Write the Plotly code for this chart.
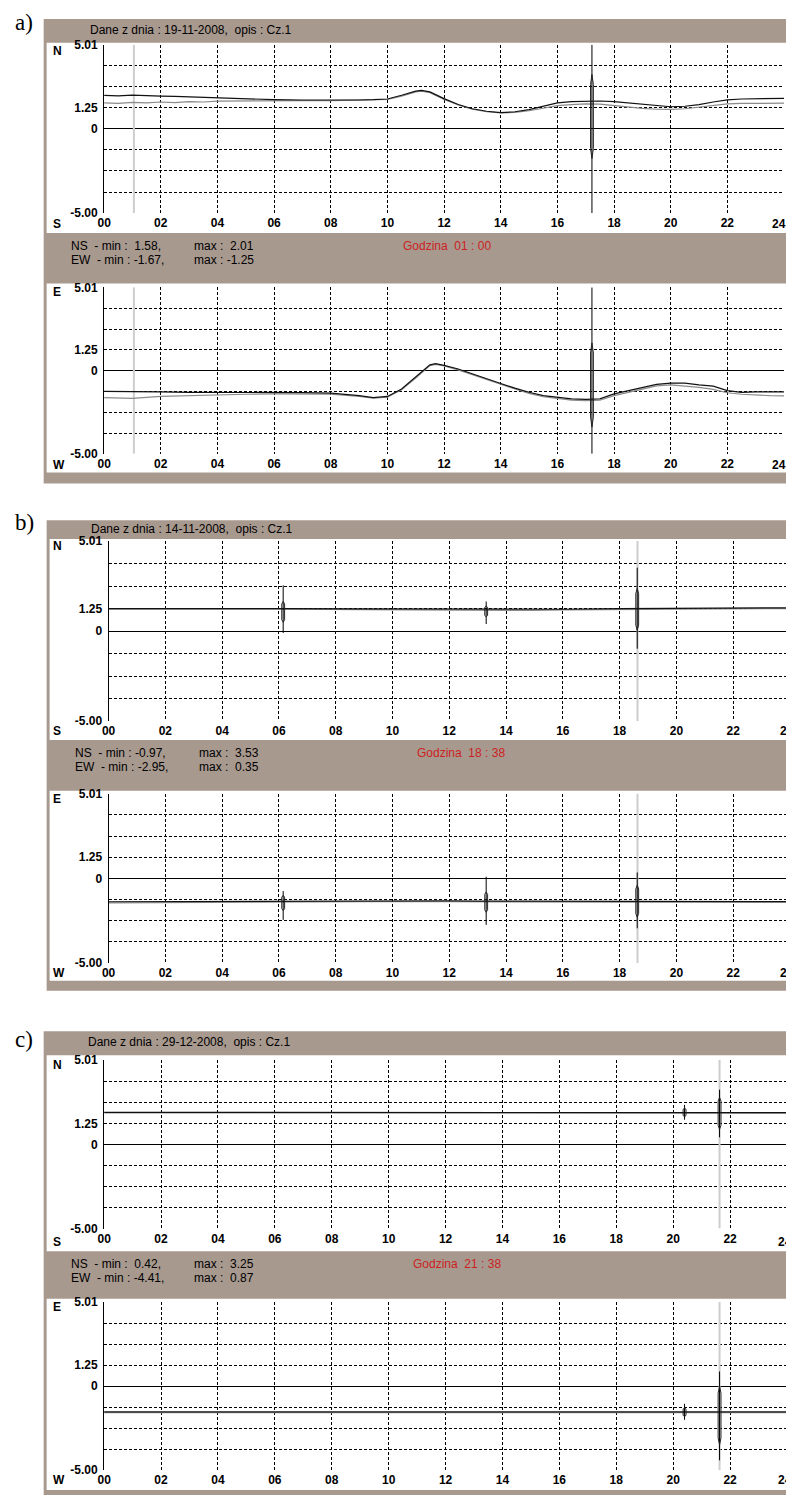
import plotly.graph_objects as go

W, H = 786, 1503

# ---------------------------------------------------------------- data
TICK_HOURS = [0, 2, 4, 6, 8, 10, 12, 14, 16, 18, 20, 22]
TICK_TEXT = ["00", "02", "04", "06", "08", "10", "12", "14", "16", "18", "20", "22"]
LAST_TICK_TEXT = "24"
Y_TICK_VALS = [-5.0, -3.75, -2.5, -1.25, 0, 1.25, 2.5, 3.75, 5.01]
Y_TICK_TEXT = ["-5.00", "", "", "", "0", "1.25", "", "", "5.01"]

PANEL_LABELS = ["a)", "b)", "c)"]
DATES = ["19-11-2008", "14-11-2008", "29-12-2008"]
DESCRIPTION = "Cz.1"
CURSOR_TEXT = ["01 : 00", "18 : 38", "21 : 38"]
CURSOR_HOURS = [1.05, 18.63, 21.63]
NS_MIN = [1.58, -0.97, 0.42]
NS_MAX = [2.01, 3.53, 3.25]
EW_MIN = [-1.67, -2.95, -4.41]
EW_MAX = [-1.25, 0.35, 0.87]

# panel a) -- NS component
A_N_HOURS = [0, 0.5, 1, 1.5, 2, 2.5, 3, 3.5, 4, 5, 6, 7, 8, 9, 9.5, 10, 10.5, 11, 11.2, 11.5,
             12, 12.5, 13, 13.5, 14, 14.5, 15, 15.5, 16, 16.5, 17, 17.5, 18, 18.5, 19, 19.5,
             20, 20.5, 21, 21.5, 22, 22.5, 23, 23.5, 24]
A_N_MAX = [2.00, 1.97, 2.01, 1.96, 1.95, 1.93, 1.90, 1.91, 1.85, 1.78, 1.74, 1.72, 1.70, 1.72,
           1.74, 1.78, 2.00, 2.25, 2.29, 2.20, 1.80, 1.45, 1.20, 1.05, 0.97, 1.02, 1.15, 1.35,
           1.55, 1.62, 1.65, 1.66, 1.62, 1.55, 1.45, 1.38, 1.32, 1.35, 1.45, 1.60, 1.73, 1.78,
           1.80, 1.82, 1.82]
A_N_MIN = [1.55, 1.52, 1.58, 1.55, 1.60, 1.57, 1.62, 1.60, 1.65, 1.67, 1.68, 1.68, 1.68, 1.70,
           1.72, 1.75, 1.95, 2.20, 2.25, 2.15, 1.76, 1.42, 1.17, 1.02, 0.95, 0.98, 1.08, 1.25,
           1.39, 1.45, 1.49, 1.48, 1.39, 1.30, 1.22, 1.17, 1.16, 1.20, 1.30, 1.40, 1.49, 1.52,
           1.52, 1.53, 1.53]
# panel a) -- EW component
A_E_HOURS = [0, 1, 2, 3, 4, 5, 6, 7, 8, 9, 9.5, 10, 10.5, 11, 11.5, 11.7, 12, 12.5, 13, 13.5,
             14, 14.5, 15, 15.5, 16, 16.5, 17, 17.5, 18, 18.5, 19, 19.5, 20, 20.5, 21, 21.5,
             22, 22.5, 23, 23.5, 24]
A_E_MAX = [-1.25, -1.25, -1.28, -1.30, -1.30, -1.30, -1.30, -1.32, -1.35, -1.50, -1.62, -1.55,
           -1.10, -0.40, 0.35, 0.42, 0.32, 0.10, -0.20, -0.50, -0.77, -1.05, -1.30, -1.50,
           -1.60, -1.70, -1.73, -1.70, -1.40, -1.20, -0.98, -0.82, -0.75, -0.75, -0.85, -0.93,
           -1.20, -1.30, -1.27, -1.27, -1.27]
A_E_MIN = [-1.62, -1.67, -1.55, -1.50, -1.45, -1.42, -1.40, -1.40, -1.42, -1.55, -1.66, -1.60,
           -1.15, -0.45, 0.30, 0.38, 0.28, 0.05, -0.25, -0.55, -0.82, -1.10, -1.37, -1.57,
           -1.68, -1.77, -1.80, -1.78, -1.50, -1.30, -1.08, -0.92, -0.85, -0.93, -1.00, -1.13,
           -1.33, -1.42, -1.47, -1.50, -1.52]

# panel b) -- quiet day
B_HOURS = [0, 3, 6, 9, 12, 13, 15, 16, 18, 20, 22, 24]
B_N_MAX = [1.26, 1.27, 1.26, 1.24, 1.22, 1.20, 1.20, 1.22, 1.25, 1.27, 1.30, 1.30]
B_N_MIN = [1.22, 1.23, 1.22, 1.20, 1.17, 1.15, 1.15, 1.18, 1.21, 1.23, 1.25, 1.26]
B_E_MAX = [-1.38, -1.36, -1.35, -1.33, -1.33, -1.34, -1.35, -1.35, -1.36, -1.37, -1.37, -1.37]
B_E_MIN = [-1.45, -1.42, -1.40, -1.38, -1.38, -1.39, -1.40, -1.40, -1.41, -1.41, -1.41, -1.41]

# panel c) -- quiet day
C_HOURS = [0, 3, 6, 9, 11, 12, 14, 16, 18, 20, 22, 24]
C_N_MAX = [1.90, 1.90, 1.90, 1.90, 1.90, 1.89, 1.87, 1.88, 1.89, 1.90, 1.89, 1.89]
C_N_MIN = [1.87, 1.87, 1.87, 1.87, 1.86, 1.85, 1.83, 1.85, 1.86, 1.87, 1.86, 1.86]
C_E_MAX = [-1.53, -1.53, -1.53, -1.53, -1.52, -1.52, -1.53, -1.52, -1.53, -1.53, -1.53, -1.53]
C_E_MIN = [-1.57, -1.57, -1.57, -1.58, -1.57, -1.56, -1.57, -1.56, -1.57, -1.57, -1.57, -1.57]

# short oscillation bursts: (hour, full low, full high, envelope low, envelope high)
A_N_SPIKES = [(17.22, -5.0, 5.01, -1.76, 3.24)]
A_E_SPIKES = [(17.22, -5.0, 5.01, -3.39, 1.67)]
B_N_SPIKES = [(6.15, -0.10, 2.55, 0.50, 1.65), (13.30, 0.40, 1.65, 0.80, 1.40),
              (18.62, -0.97, 3.53, 0.06, 2.38)]
B_E_SPIKES = [(6.15, -2.45, -0.75, -1.90, -1.00), (13.30, -2.75, 0.10, -2.00, -0.80),
              (18.62, -2.95, 0.35, -2.30, -0.40)]
C_N_SPIKES = [(20.40, 1.47, 2.35, 1.65, 2.15), (21.63, 0.42, 3.25, 0.90, 2.80)]
C_E_SPIKES = [(20.40, -2.00, -1.05, -1.80, -1.30), (21.63, -4.41, 0.87, -3.50, 0.00)]

SERIES = [
    [(A_N_HOURS, A_N_MAX, A_N_MIN, A_N_SPIKES), (A_E_HOURS, A_E_MAX, A_E_MIN, A_E_SPIKES)],
    [(B_HOURS, B_N_MAX, B_N_MIN, B_N_SPIKES), (B_HOURS, B_E_MAX, B_E_MIN, B_E_SPIKES)],
    [(C_HOURS, C_N_MAX, C_N_MIN, C_N_SPIKES), (C_HOURS, C_E_MAX, C_E_MIN, C_E_SPIKES)],
]

# ---------------------------------------------------------------- layout geometry (pixels)
GEOM = [
    dict(frame=(37, 12, 786, 481), n_white=(40, 36, 786, 228), e_white=(40, 279, 786, 470),
         x0=98, x24=784, lbl24=779, plots=[(38, 208), (283, 451)], title=(82, 23), lab_y=16,
         info=(63, 187, 241, 255), red_x=398, s_y=219, w_y=462, n_y=44, e_y=288),
    dict(frame=(40, 518, 786, 993), n_white=(43, 537, 786, 740), e_white=(43, 791, 786, 983),
         x0=102.5, x24=790, lbl24=787, plots=[(539, 721), (794, 965)], title=(83, 527),
         lab_y=520, info=(67, 192, 753, 767), red_x=412, s_y=731, w_y=975, n_y=544, e_y=799),
    dict(frame=(37, 1034, 786, 1502), n_white=(40, 1058, 786, 1256),
         e_white=(40, 1304, 786, 1497), x0=98, x24=787, lbl24=785,
         plots=[(1063, 1233), (1307, 1477)], title=(80, 1045), lab_y=1042,
         info=(63, 187, 1269, 1283), red_x=408, s_y=1247, w_y=1487, n_y=1068, e_y=1312),
]

BROWN = "#A8998F"
GRID_DASH = "3px,2px"
TICK_FONT = dict(family="Liberation Sans Narrow, Liberation Sans, Arial, sans-serif",
                 size=12, color="black", weight="bold")
TEXT_FONT = dict(family="Liberation Sans, Arial, sans-serif", size=12, color="black")
NB = "\u00a0"


def px_x(v):
    return v / W


def px_y(v):
    return 1 - v / H


fig = go.Figure()
shapes = []
annotations = []
layout_axes = {}

sub = 0
for p, g in enumerate(GEOM):
    fx0, fy0, fx1, fy1 = g["frame"]
    shapes.append(dict(type="rect", xref="paper", yref="paper", x0=px_x(fx0), x1=px_x(fx1),
                       y0=px_y(fy1), y1=px_y(fy0), fillcolor=BROWN, line=dict(width=0),
                       layer="below"))
    for key in ("n_white", "e_white"):
        wx0, wy0, wx1, wy1 = g[key]
        shapes.append(dict(type="rect", xref="paper", yref="paper", x0=px_x(wx0), x1=px_x(wx1),
                           y0=px_y(wy1), y1=px_y(wy0), fillcolor="white", line=dict(width=0),
                           layer="below"))

    # texts
    annotations.append(dict(text=PANEL_LABELS[p], xref="paper", yref="paper", x=px_x(6),
                            y=px_y(g["lab_y"]), xanchor="left", yanchor="middle", showarrow=False,
                            font=dict(family="Liberation Serif, Times New Roman, serif", size=23,
                                      color="black")))
    annotations.append(dict(text=f"Dane z dnia : {DATES[p]},{NB}{NB}opis : {DESCRIPTION}",
                            xref="paper", yref="paper", x=px_x(g["title"][0]),
                            y=px_y(g["title"][1]), xanchor="left", yanchor="middle",
                            showarrow=False, font=TEXT_FONT))
    ix0, ix1, iy0, iy1 = g["info"]
    lines = [("NS", NS_MIN[p], NS_MAX[p], iy0), ("EW", EW_MIN[p], EW_MAX[p], iy1)]
    for name, vmin, vmax, yy in lines:
        left = f"{name}{NB}{NB}-{NB}min{NB}:{NB}{vmin:5.2f},".replace(" ", NB)
        right = f"max{NB}:{NB}{vmax:5.2f}".replace(" ", NB)
        annotations.append(dict(text=left, xref="paper", yref="paper", x=px_x(ix0), y=px_y(yy),
                                xanchor="left", yanchor="middle", showarrow=False, font=TEXT_FONT))
        annotations.append(dict(text=right, xref="paper", yref="paper", x=px_x(ix1), y=px_y(yy),
                                xanchor="left", yanchor="middle", showarrow=False, font=TEXT_FONT))
    annotations.append(dict(text=f"Godzina{NB}{NB}{CURSOR_TEXT[p]}".replace(" ", NB),
                            xref="paper", yref="paper", x=px_x(g["red_x"]), y=px_y(iy0),
                            xanchor="left", yanchor="middle", showarrow=False,
                            font=dict(family="Liberation Sans, Arial, sans-serif", size=12,
                                      color="#CC2222")))
    for letter, yy in (("N", g["n_y"]), ("S", g["s_y"]), ("E", g["e_y"]), ("W", g["w_y"])):
        annotations.append(dict(text=letter, xref="paper", yref="paper", x=px_x(44), y=px_y(yy),
                                xanchor="left", yanchor="middle", showarrow=False, font=TICK_FONT))
    # last hour label sits at the right edge of the window (partly cut off, as in the original)
    for yy in (g["s_y"], g["w_y"]):
        annotations.append(dict(text=LAST_TICK_TEXT, xref="paper", yref="paper",
                                x=px_x(g["lbl24"]), y=px_y(yy), xanchor="center",
                                yanchor="middle", showarrow=False, font=TICK_FONT))

    x_end = min(g["x24"], W)
    x_range_end = 24 * (x_end - g["x0"]) / (g["x24"] - g["x0"])

    for k, (top, bot) in enumerate(g["plots"]):
        sub += 1
        xa = "x" if sub == 1 else f"x{sub}"
        ya = "y" if sub == 1 else f"y{sub}"
        layout_axes["xaxis" if sub == 1 else f"xaxis{sub}"] = dict(
            domain=[px_x(g["x0"]), px_x(x_end)], range=[0, x_range_end], anchor=ya,
            tickmode="array", tickvals=TICK_HOURS, ticktext=TICK_TEXT, showgrid=True,
            gridcolor="black", gridwidth=1, griddash=GRID_DASH, zeroline=False, showline=False,
            ticks="", tickfont=TICK_FONT, ticklabelstandoff=1, fixedrange=True)
        layout_axes["yaxis" if sub == 1 else f"yaxis{sub}"] = dict(
            domain=[px_y(bot), px_y(top)], range=[-5.0, 5.01], anchor=xa,
            tickmode="array", tickvals=Y_TICK_VALS, ticktext=Y_TICK_TEXT, showgrid=True,
            gridcolor="black", gridwidth=1, griddash=GRID_DASH, zeroline=True,
            zerolinecolor="black", zerolinewidth=1, showline=True, linecolor="black",
            linewidth=1, ticks="", tickfont=TICK_FONT, ticklabelstandoff=3, fixedrange=True)

        hours, vmax, vmin, spikes = SERIES[p][k]
        # cursor
        fig.add_trace(go.Scatter(x=[CURSOR_HOURS[p], CURSOR_HOURS[p]], y=[-5.0, 5.01],
                                 mode="lines", line=dict(color="#CDCDCD", width=2),
                                 xaxis=xa, yaxis=ya, hoverinfo="skip"))
        fig.add_trace(go.Scatter(x=hours, y=vmin, mode="lines",
                                 line=dict(color="#8A8A8A", width=1.2),
                                 xaxis=xa, yaxis=ya))
        fig.add_trace(go.Scatter(x=hours, y=vmax, mode="lines",
                                 line=dict(color="#111111", width=1.2),
                                 xaxis=xa, yaxis=ya))
        for (t, lo, hi, elo, ehi) in spikes:
            fig.add_trace(go.Scatter(x=[t, t], y=[lo, hi], mode="lines",
                                     line=dict(color="black", width=1),
                                     xaxis=xa, yaxis=ya, hoverinfo="skip"))
            w = 0.05
            d = 0.12 * (ehi - elo)
            fig.add_trace(go.Scatter(x=[t, t - w, t - w, t, t + w, t + w, t],
                                     y=[elo, elo + d, ehi - d, ehi, ehi - d, elo + d, elo],
                                     mode="lines", line=dict(color="#222222", width=1),
                                     xaxis=xa, yaxis=ya, hoverinfo="skip"))

fig.update_layout(
    width=W, height=H, margin=dict(l=0, r=0, t=0, b=0),
    paper_bgcolor="white", plot_bgcolor="rgba(0,0,0,0)",
    showlegend=False, shapes=shapes, annotations=annotations,
    **layout_axes,
)

fig.write_html(
    "out.html",
    config={"displayModeBar": False},
    post_script=("document.body.style.margin='0';"
                 "document.body.style.overflow='hidden';"
                 "document.documentElement.style.overflow='hidden';"),
)
